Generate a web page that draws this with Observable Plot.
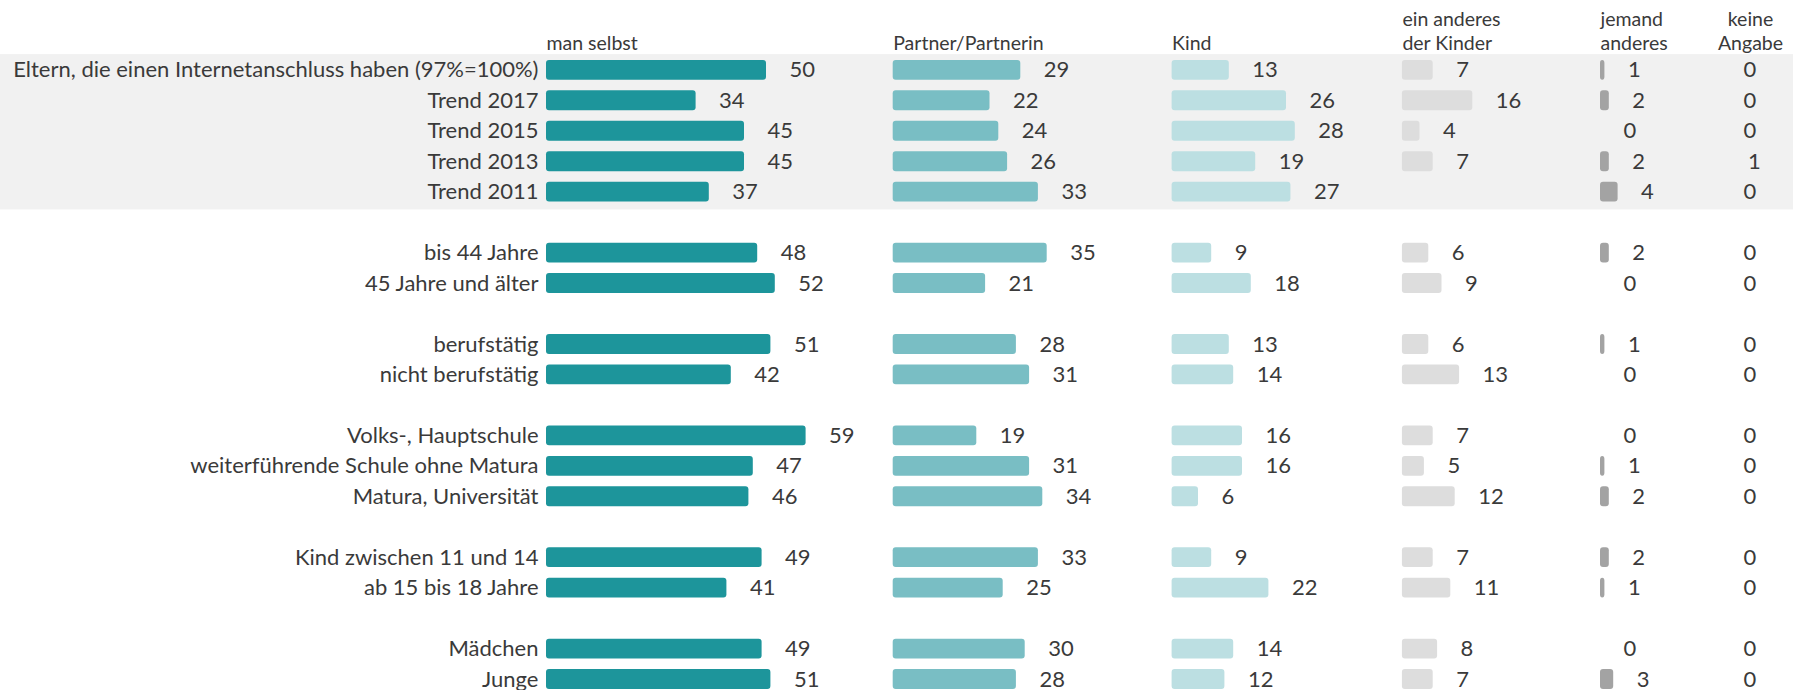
<!DOCTYPE html>
<html><head><meta charset="utf-8">
<script src="https://cdn.jsdelivr.net/npm/d3@7"></script>
<script src="https://cdn.jsdelivr.net/npm/@observablehq/plot@0.6"></script>
<style>
html,body{margin:0;padding:0;background:#fff;}
#chart svg{display:block;}
</style></head><body><div id="chart"></div>
<script>
// ---- data ----
const categories = [
  "Eltern, die einen Internetanschluss haben (97%=100%)",
  "Trend 2017", "Trend 2015", "Trend 2013", "Trend 2011",
  "bis 44 Jahre", "45 Jahre und älter",
  "berufstätig", "nicht berufstätig",
  "Volks-, Hauptschule", "weiterführende Schule ohne Matura", "Matura, Universität",
  "Kind zwischen 11 und 14", "ab 15 bis 18 Jahre",
  "Mädchen", "Junge"
];
const columns = ["man selbst", "Partner/Partnerin", "Kind", "ein anderes\nder Kinder", "jemand\nanderes", "keine\nAngabe"];
const manSelbst     = [50, 34, 45, 45, 37, 48, 52, 51, 42, 59, 47, 46, 49, 41, 49, 51];
const partner       = [29, 22, 24, 26, 33, 35, 21, 28, 31, 19, 31, 34, 33, 25, 30, 28];
const kind          = [13, 26, 28, 19, 27,  9, 18, 13, 14, 16, 16,  6,  9, 22, 14, 12];
const einAnderes    = [ 7, 16,  4,  7, null, 6,  9,  6, 13,  7,  5, 12,  7, 11,  8,  7];
const jemandAnderes = [ 1,  2,  0,  2,  4,  2,  0,  1,  0,  0,  1,  2,  2,  1,  0,  3];
const keineAngabe   = [ 0,  0,  0,  1,  0,  0,  0,  0,  0,  0,  0,  0,  0,  0,  0,  0];
const trendRows = categories.slice(0, 5);
const gapAfter = [4, 6, 8, 11, 13];

// ---- layout / style ----
const series = [manSelbst, partner, kind, einAnderes, jemandAnderes, keineAngabe];
const W = 1793, H = 690, PX = 4.4, STEP = 30.46, TOP = 54.6;
const colStart = [546, 892.7, 1171.6, 1401.9, 1600, 1720].map(p => p / PX);
const colors = ["#1d959b", "#79bec4", "#bcdfe2", "#dddddd", "#a3a3a3", "none"];
const textColor = "#3a3a3a";

const domain = [];
categories.forEach((c, i) => { domain.push(c); if (gapAfter.includes(i)) domain.push("gap" + i); });
const cells = [];
categories.forEach((c, i) => series.forEach((s, j) => {
  if (s[i] != null) cells.push({row: c, col: j, value: s[i]});
}));

const chart = Plot.plot({
  width: W, height: H,
  marginLeft: 0, marginRight: 0, marginTop: 54, marginBottom: 0,
  style: {fontFamily: "Lato, sans-serif", fontSize: "22px", color: textColor, background: "#fff", overflow: "hidden"},
  x: {domain: [0, W / PX], range: [0, W], axis: null},
  y: {domain, range: [TOP, TOP + domain.length * STEP], padding: 0, round: false, axis: null},
  color: {type: "identity"},
  marks: [
    Plot.cell(trendRows, {y: d => d, fill: "#f1f1f1", insetTop: -0.5, insetBottom: -2.5}),
    Plot.barX(cells.filter(d => d.value > 0 && d.col < 5), {
      x1: d => colStart[d.col], x2: d => colStart[d.col] + d.value, y: "row",
      fill: d => colors[d.col], insetTop: 5.3, insetBottom: 5.3, rx: 3
    }),
    Plot.text(cells, {
      x: d => colStart[d.col] + d.value, y: "row", text: d => String(d.value),
      textAnchor: "start", dx: 23, fill: textColor
    }),
    Plot.text(categories, {x: colStart[0], y: d => d, textAnchor: "end", dx: -8, fill: textColor}),
    Plot.text(columns.slice(0, 5), {
      x: (d, i) => colStart[i], frameAnchor: "top", lineAnchor: "bottom", dy: -5,
      textAnchor: "start", fontSize: 19.5, lineHeight: 1.2, fill: textColor
    }),
    Plot.text(columns.slice(5), {
      x: colStart[5], frameAnchor: "top", lineAnchor: "bottom", dy: -5, dx: 30,
      textAnchor: "middle", fontSize: 19.5, lineHeight: 1.2, fill: textColor
    })
  ]
});
document.getElementById("chart").appendChild(chart);
</script>
</body></html>
